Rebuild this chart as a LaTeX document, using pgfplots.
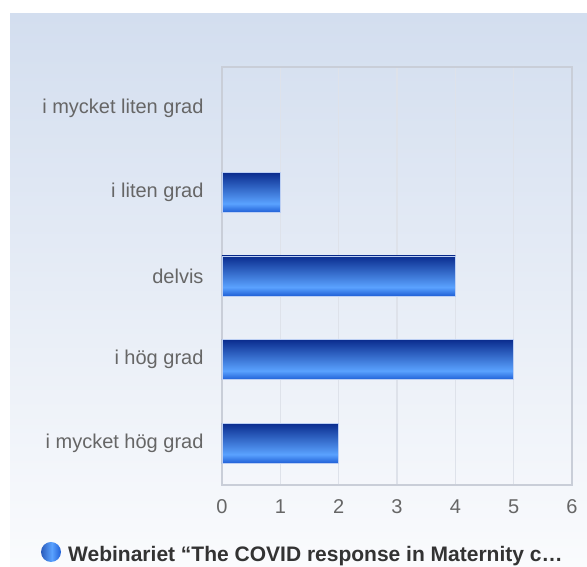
\documentclass[border=0pt]{standalone}
\usepackage{pgfplots}
\pgfplotsset{compat=1.18}
\usepackage{fontspec}
\setmainfont{Liberation Sans}
\definecolor{bdark}{HTML}{0A2C8E}
\definecolor{blight}{HTML}{5AA2FF}
\definecolor{bbot}{HTML}{1F5FD6}
\definecolor{gridc}{HTML}{DEE2EA}
\definecolor{axc}{HTML}{C9CED8}
\definecolor{labc}{HTML}{666666}
\definecolor{bgtop}{HTML}{D3DEEF}
\definecolor{bgbot}{HTML}{FAFBFD}
\pgfdeclareverticalshading{barshade}{100bp}{color(0bp)=(bbot); color(25bp)=(bbot); color(36bp)=(blight); color(75bp)=(bdark); color(100bp)=(bdark)}
\pgfdeclarehorizontalshading{dotshade}{100bp}{color(0bp)=(bdark); color(25bp)=(bdark!60!blight); color(52bp)=(blight); color(75bp)=(bbot); color(100bp)=(bbot)}
\pgfplotsset{gradbar/.style={xbar, bar width=40pt, draw=white!70!bbot, line width=0.5pt, shading=barshade}}
\begin{document}
\begin{tikzpicture}[x=1pt,y=1pt]
\clip (0,0) rectangle (587,567);
\fill[white] (0,0) rectangle (587,567);
\shade[top color=bgtop, bottom color=bgbot] (10,0) rectangle (587,553);
\begin{axis}[
  at={(222pt,82pt)}, anchor=south west,
  scale only axis, width=350pt, height=418pt,
  xmin=0, xmax=6, ymin=-0.5, ymax=4.5,
  xtick={0,1,2,3,4,5,6},
  ytick={0,1,2,3,4},
  yticklabels={i mycket hög grad, i hög grad, delvis, i liten grad, i mycket liten grad},
  xmajorgrids,
  grid style={draw=gridc, line width=1.2pt},
  axis line style={draw=axc, line width=1.2pt},
  tick style={draw=none},
  tick label style={font=\fontsize{20}{22}\selectfont, text=labc},
  yticklabel style={xshift=-15pt},
  xticklabel style={yshift=-11pt},
  /pgf/number format/assume math mode=true,
]
\addplot[gradbar] coordinates {(2,0)};
\addplot[gradbar] coordinates {(5,1)};
\addplot[gradbar] coordinates {(4,2)};
\addplot[gradbar] coordinates {(1,3)};
\addplot[xbar, bar width=40pt, draw=none, fill=none] coordinates {(0,4)};
\end{axis}
\shade[shading=dotshade] (51,15) circle (10);
\node[anchor=base west, inner sep=0, text=black!80, font=\fontsize{21}{24}\selectfont\bfseries] at (68,5) {Webinariet “The COVID response in Maternity c…};
\end{tikzpicture}
\end{document}
